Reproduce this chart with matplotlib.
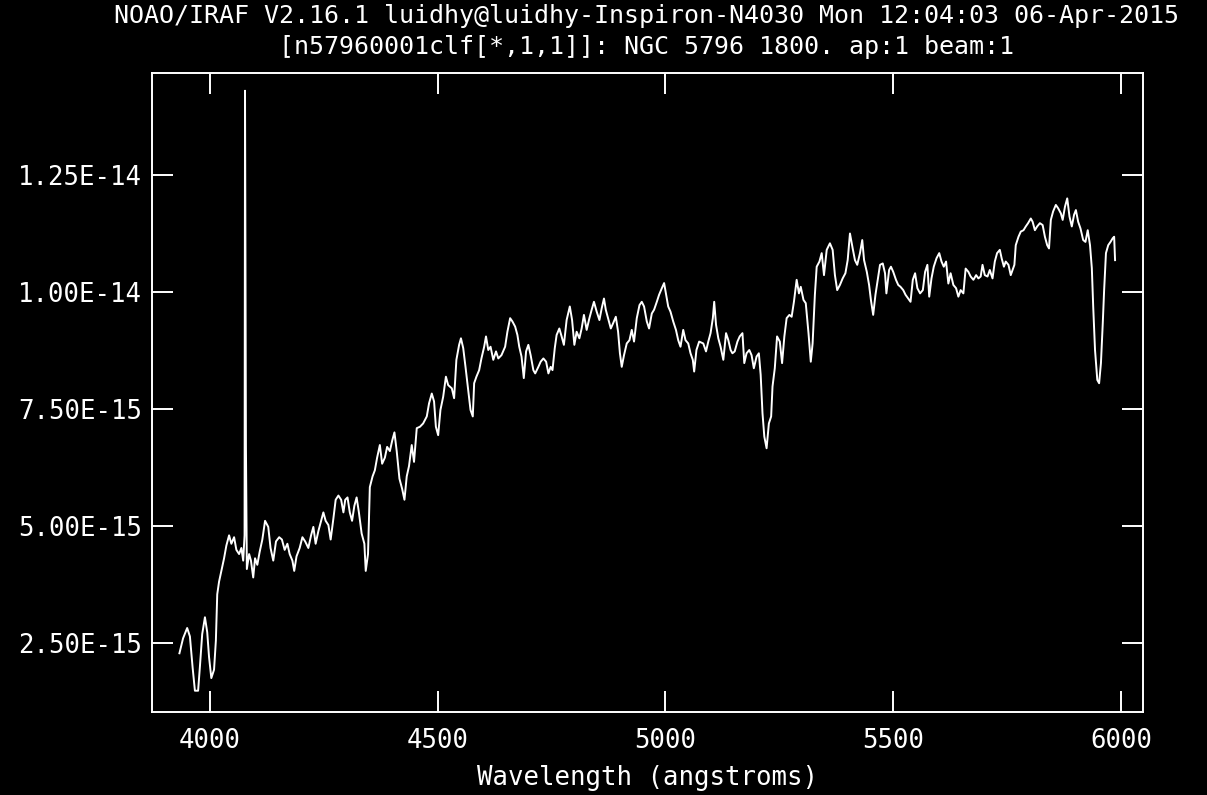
import numpy as np
import matplotlib
matplotlib.use("Agg")
import matplotlib.pyplot as plt
from matplotlib.ticker import FuncFormatter

# wavelength in angstroms, flux in units of 1e-15
wave = [3933, 3941, 3950, 3956, 3962, 3967, 3974, 3978, 3983, 3989, 3994, 3998,
        4003, 4009, 4013, 4016, 4020, 4025, 4031, 4036, 4042, 4047, 4053, 4058,
        4064, 4069, 4073, 4076, 4077, 4079, 4081, 4086, 4090, 4095, 4099, 4104,
        4109, 4115, 4121, 4128, 4133, 4139, 4145, 4152, 4158, 4164, 4170, 4175,
        4181, 4185, 4190, 4197, 4203, 4209, 4216, 4222, 4227, 4232, 4238, 4243,
        4249, 4254, 4260, 4265, 4271, 4276, 4282, 4288, 4293, 4297, 4302, 4307,
        4312, 4317, 4322, 4327, 4333, 4339, 4342, 4347, 4351, 4357, 4362, 4367,
        4373, 4378, 4384, 4389, 4395, 4400, 4405, 4410, 4416, 4422, 4427, 4432,
        4437, 4443, 4448, 4454,
        4461, 4468, 4476, 4481, 4487, 4492, 4496, 4501, 4506, 4512, 4518, 4523,
        4531, 4536, 4541, 4547, 4551, 4556, 4561, 4567, 4572, 4577, 4580, 4585,
        4591, 4596, 4602, 4606, 4611, 4616, 4622, 4628, 4633, 4640, 4648, 4653,
        4659, 4664, 4670, 4675, 4679, 4684, 4689, 4694, 4699, 4704, 4710, 4714,
        4721, 4726, 4732, 4738, 4743, 4748, 4752, 4757, 4761, 4767, 4772, 4777,
        4783, 4790, 4795, 4800, 4805, 4811, 4816, 4821, 4827, 4833, 4838, 4843,
        4849, 4855, 4860, 4865, 4869, 4874, 4880, 4885, 4891, 4896, 4900, 4904,
        4909, 4915, 4921, 4926, 4931, 4937, 4943, 4948, 4953, 4959, 4964, 4970,
        4975, 4981, 4986, 4992, 4997, 5001, 5006, 5011, 5017, 5023, 5028, 5033,
        5039, 5044, 5050, 5055, 5060, 5063, 5068, 5074,
        5083, 5089, 5094, 5099, 5104, 5107, 5111, 5116, 5121, 5127, 5133, 5138,
        5143, 5147, 5152, 5158, 5163, 5169, 5173, 5178, 5184, 5189, 5194, 5200,
        5205, 5209, 5213, 5217, 5222, 5227, 5232, 5235, 5240, 5245, 5251, 5256,
        5261, 5266, 5272, 5277, 5282, 5288, 5293, 5297, 5303, 5308, 5314, 5319,
        5323, 5328, 5332, 5338, 5343, 5348, 5354, 5361, 5367, 5372, 5377, 5383,
        5389, 5395, 5400, 5405, 5411, 5416, 5421, 5427, 5432, 5436, 5442, 5447,
        5451, 5456, 5461, 5466, 5471, 5477, 5482, 5485, 5491, 5495, 5500, 5506,
        5511, 5516, 5522, 5527, 5533, 5538, 5543, 5548, 5553, 5559, 5565, 5570,
        5575, 5579, 5584, 5589, 5595, 5601, 5606, 5611, 5616, 5621, 5626, 5632,
        5638, 5643, 5648, 5654, 5659, 5665, 5670, 5676, 5682, 5687, 5692, 5696,
        5701, 5707, 5712, 5718, 5723, 5728,
        5734, 5738, 5743, 5747, 5753, 5758, 5762, 5766, 5769, 5775, 5780, 5786,
        5791, 5796, 5802, 5806, 5811, 5816, 5822, 5828, 5833, 5838, 5842, 5846,
        5851, 5857, 5862, 5868, 5872, 5877, 5882, 5887, 5892, 5897, 5901, 5906,
        5911, 5917, 5922, 5927, 5932, 5936, 5939, 5943, 5948, 5952, 5956, 5960,
        5963, 5967, 5972, 5977, 5982, 5985, 5987]

flux = [2.28, 2.60, 2.82, 2.64, 1.97, 1.48, 1.48, 2.00, 2.69, 3.05, 2.73, 2.20,
        1.75, 1.93, 2.55, 3.54, 3.81, 4.04, 4.31, 4.58, 4.80, 4.62, 4.76, 4.49,
        4.40, 4.53, 4.26, 4.80, 14.30, 6.70, 4.08, 4.40, 4.26, 3.90, 4.31, 4.17,
        4.44, 4.71, 5.11, 4.98, 4.53, 4.26, 4.67, 4.76, 4.71, 4.49, 4.62, 4.40,
        4.26, 4.04, 4.35, 4.53, 4.76, 4.67, 4.53, 4.80, 4.98, 4.62, 4.89, 5.07,
        5.29, 5.11, 5.02, 4.71, 5.16, 5.56, 5.65, 5.56, 5.29, 5.56, 5.61, 5.29,
        5.11, 5.43, 5.61, 5.29, 4.84, 4.62, 4.04, 4.40, 5.83, 6.06, 6.19, 6.46,
        6.73, 6.33, 6.46, 6.69, 6.60, 6.82, 7.00, 6.60, 6.01, 5.79, 5.56, 6.06,
        6.28, 6.73, 6.37, 7.09,
        7.12, 7.19, 7.34, 7.62, 7.83, 7.66, 7.12, 6.94, 7.48, 7.76, 8.19, 8.01,
        7.94, 7.73, 8.55, 8.87, 9.01, 8.80, 8.40, 7.90, 7.48, 7.34, 8.05, 8.19,
        8.33, 8.58, 8.83, 9.05, 8.76, 8.83, 8.55, 8.73, 8.58, 8.65, 8.83, 9.15,
        9.44, 9.37, 9.26, 9.08, 8.83, 8.62, 8.16, 8.73, 8.87, 8.65, 8.33, 8.26,
        8.40, 8.51, 8.58, 8.51, 8.26, 8.40, 8.33, 8.80, 9.08, 9.22, 9.05, 8.87,
        9.40, 9.69, 9.40, 8.87, 9.15, 9.01, 9.22, 9.51, 9.19, 9.44, 9.62, 9.79,
        9.58, 9.40, 9.65, 9.86, 9.62, 9.44, 9.22, 9.33, 9.47, 9.15, 8.69, 8.40,
        8.65, 8.90, 8.97, 9.19, 8.94, 9.44, 9.72, 9.79, 9.69, 9.37, 9.22, 9.54,
        9.62, 9.79, 9.94, 10.08, 10.19, 9.97, 9.69, 9.58, 9.37, 9.19, 8.97, 8.83,
        9.19, 8.97, 8.90, 8.69, 8.55, 8.30, 8.76, 8.94,
        8.90, 8.73, 8.94, 9.12, 9.44, 9.79, 9.30, 9.01, 8.83, 8.55, 9.12, 8.97,
        8.76, 8.69, 8.73, 8.94, 9.05, 9.12, 8.48, 8.69, 8.76, 8.65, 8.37, 8.62,
        8.69, 8.23, 7.41, 6.91, 6.66, 7.19, 7.34, 7.98, 8.37, 9.05, 8.94, 8.48,
        9.05, 9.44, 9.51, 9.47, 9.79, 10.26, 9.97, 10.11, 9.83, 9.76, 9.12, 8.51,
        8.90, 9.94, 10.54, 10.65, 10.83, 10.36, 10.90, 11.04, 10.90, 10.36, 10.04, 10.15,
        10.29, 10.40, 10.68, 11.25, 10.93, 10.68, 10.58, 10.83, 11.11, 10.68, 10.43, 10.15,
        9.83, 9.51, 9.94, 10.26, 10.58, 10.61, 10.40, 9.97, 10.47, 10.54, 10.43, 10.26,
        10.15, 10.11, 10.04, 9.94, 9.86, 9.79, 10.26, 10.40, 10.08, 9.97, 10.04, 10.43,
        10.58, 9.90, 10.29, 10.54, 10.72, 10.83, 10.65, 10.54, 10.65, 10.18, 10.40, 10.15,
        10.08, 9.90, 10.04, 9.97, 10.50, 10.43, 10.33, 10.26, 10.36, 10.29, 10.33, 10.58,
        10.36, 10.33, 10.47, 10.29, 10.65, 10.83,
        10.90, 10.72, 10.54, 10.65, 10.58, 10.36, 10.47, 10.58, 11.00, 11.18, 11.29, 11.32,
        11.40, 11.47, 11.57, 11.50, 11.32, 11.40, 11.47, 11.43, 11.18, 11.00, 10.93, 11.54,
        11.72, 11.86, 11.79, 11.68, 11.54, 11.82, 12.00, 11.61, 11.40, 11.65, 11.75, 11.50,
        11.36, 11.11, 11.07, 11.32, 11.00, 10.51, 9.69, 8.76, 8.12, 8.05, 8.48, 9.33,
        10.04, 10.83, 11.00, 11.07, 11.15, 11.18, 10.68]

x_ticks = [4000, 4500, 5000, 5500, 6000]
y_ticks = [2.5e-15, 5.0e-15, 7.5e-15, 1.0e-14, 1.25e-14]

title_1 = "NOAO/IRAF V2.16.1 luidhy@luidhy-Inspiron-N4030 Mon 12:04:03 06-Apr-2015"
title_2 = "[n57960001clf[*,1,1]]: NGC 5796 1800. ap:1 beam:1"
x_label = "Wavelength (angstroms)"

plt.rcParams['font.family'] = ['DejaVu Sans Mono']
fs = 18.5

fig = plt.figure(figsize=(12.07, 7.95), dpi=100, facecolor='black')
ax = fig.add_axes([0.1259, 0.1048, 0.8208, 0.8038], facecolor='black')

ax.plot(wave, np.array(flux) * 1e-15, color='white', lw=1.4)

ax.set_xlim(3872.7, 6047.6)
ax.set_ylim(1.032e-15, 1.4686e-14)
ax.set_xticks(x_ticks)
ax.set_yticks(y_ticks)
ax.yaxis.set_major_formatter(FuncFormatter(lambda v, p: '{:.2E}'.format(v)))
ax.minorticks_off()

for s in ax.spines.values():
    s.set_color('white')
    s.set_linewidth(1.4)
ax.tick_params(axis='both', which='major', direction='in', length=15, width=1.4,
               colors='white', labelsize=fs, top=True, right=True)
ax.tick_params(axis='x', pad=12)
ax.tick_params(axis='y', pad=7)

ax.set_xlabel(x_label, color='white', fontsize=fs, labelpad=8)

# two header lines, pushed slightly apart so the taller glyphs don't collide
fig.text(0.536, 1 - 16 / 795, title_1, color='white', fontsize=18, ha='center', va='center')
fig.text(0.536, 1 - 47 / 795, title_2, color='white', fontsize=18, ha='center', va='center')

fig.savefig('out.png', dpi=100, facecolor='black')
